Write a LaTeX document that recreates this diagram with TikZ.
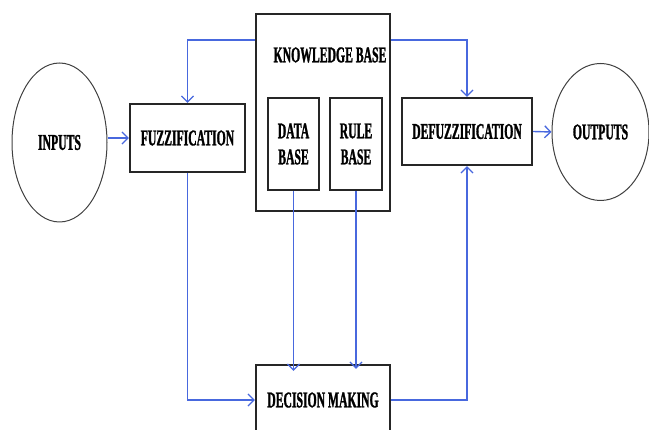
\documentclass[tikz,border=0pt]{standalone}
\usepackage{fontspec}
\setmainfont{Liberation Serif}[FakeStretch=0.52,
  BoldFont={Liberation Serif Bold}, BoldFeatures={FakeStretch=0.52,FakeBold=1.2}]
\usetikzlibrary{arrows.meta,shapes.geometric}
\definecolor{linkblue}{RGB}{72,104,222}
\tikzset{
  blk/.style={draw=black!85, line width=2.2pt, align=center, inner sep=0pt,
    font=\bfseries\fontsize{22.5}{25}\selectfont},
  oval/.style={ellipse, draw=black!75, line width=1pt, inner sep=0pt,
    font=\bfseries\fontsize{22.5}{25}\selectfont},
  link/.style={draw=linkblue, line width=1.4pt,
    -{Straight Barb[length=6pt,width=12pt,line width=1.3pt]}}
}
\begin{document}
\begin{tikzpicture}[x=1pt,y=-1pt]
		\useasboundingbox (0,0) rectangle (649,430);
		\clip (0,0) rectangle (649,430);

		\node[oval, minimum width=95, minimum height=159] (inputs) at (59.5,142.5) {INPUTS};
		\node[blk, minimum width=115, minimum height=68] (fuzz) at (187.5,138) {FUZZIFICATION};
		\node[blk, minimum width=134, minimum height=197] (kb) at (323,112.5) {};
		\node[font=\bfseries\fontsize{22.5}{25}\selectfont] (kblabel) at (330,55) {KNOWLEDGE BASE};
		\node[blk, minimum width=51, minimum height=92] (data) at (293.5,144) {DATA\\[1pt]BASE};
		\node[blk, minimum width=52, minimum height=92] (rule) at (356,144) {RULE\\[1pt]BASE};
		\node[blk, minimum width=130, minimum height=67] (defuzz) at (467,131.5) {DEFUZZIFICATION};
		\node[oval, minimum width=97, minimum height=137] (outputs) at (600.5,132) {OUTPUTS};
		\node[blk, minimum width=134, minimum height=70] (decision) at (323,400) {DECISION MAKING};

		% connectors
		\draw[link] (inputs.east |- fuzz.west) -- (fuzz.west);
		\draw[link] (kb.west |- 0,40) -| (fuzz.north);
		\draw[link] (kb.east |- 0,40) -| (defuzz.north);
		\draw[link] (fuzz.south) |- (decision.west);
		\draw[link] (data.south) -- ([yshift=-7pt]decision.north -| data.south);
		\draw[link] (rule.south) -- ([yshift=-5pt]decision.north -| rule.south);
		\draw[link] (decision.east) -| (defuzz.south);
		\draw[link] (defuzz.east) -- (outputs.west);
	\end{tikzpicture}
\end{document}
